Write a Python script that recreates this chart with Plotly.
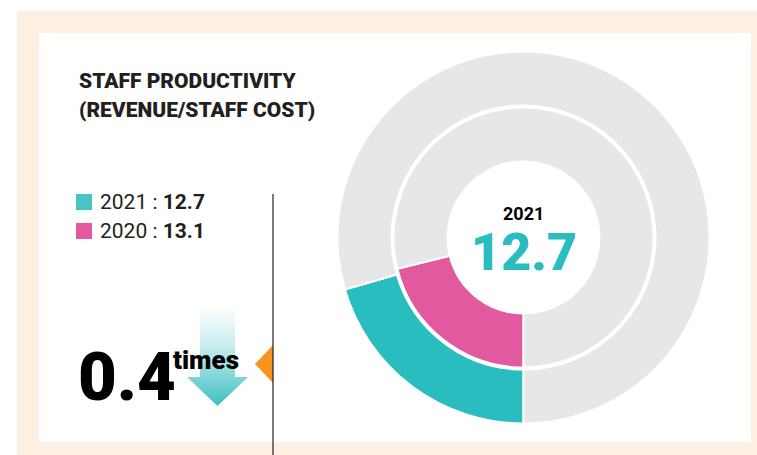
import plotly.graph_objects as go

W, H = 757, 455

# Staff productivity (revenue / staff cost)
years = ["2021", "2020"]
productivity = [12.7, 13.1]
ring_full_scale = 62.0
change_label = "0.4"

TEAL = "#29BDBF"
PINK = "#E15AA0"
GREY = "#E6E7E8"
LEG_TEAL = "#4AC3C6"
LEG_PINK = "#E35A9F"
PEACH = "#FDEFE1"
ORANGE = "#F7941D"
INK = "#231F20"
FONT = "Roboto"


def px(x):
    return x / W


def py(y):
    return 1 - y / H


cx, cy = 523.5, 237.5
r_outer, r_outer_hole = 186.0, 132.0
r_inner, r_inner_hole = 130.0, 76.0


def ring_domain(r):
    return dict(x=[px(cx - r), px(cx + r)], y=[py(cy + r), py(cy - r)])


fig = go.Figure()

# outer ring: 2021
fig.add_trace(go.Pie(
    values=[productivity[0], ring_full_scale - productivity[0]],
    marker=dict(colors=[TEAL, GREY], line=dict(color="white", width=2)),
    hole=r_outer_hole / r_outer, domain=ring_domain(r_outer),
    rotation=180, direction="clockwise", sort=False,
    textinfo="none", hoverinfo="skip", showlegend=False,
))
# inner ring: 2020
fig.add_trace(go.Pie(
    values=[productivity[1], ring_full_scale - productivity[1]],
    marker=dict(colors=[PINK, GREY], line=dict(color="white", width=2)),
    hole=r_inner_hole / r_inner, domain=ring_domain(r_inner),
    rotation=180, direction="clockwise", sort=False,
    textinfo="none", hoverinfo="skip", showlegend=False,
))

# downward arrow with a fading gradient
ax = [200, 235, 235, 248, 217.5, 187, 200, 200]
ay = [305, 305, 377, 377, 406, 377, 377, 305]
fig.add_trace(go.Scatter(
    x=ax, y=ay, mode="lines", fill="toself", line=dict(width=0),
    fillgradient=dict(type="vertical", start=305, stop=406,
                      colorscale=[[0, "#FFFFFF"], [0.4, "#C9EDEE"], [1, "#3FBFC2"]]),
    hoverinfo="skip", showlegend=False,
))

shapes = [
    dict(type="rect", xref="x", yref="y", x0=17, x1=757, y0=10.5, y1=455,
         fillcolor=PEACH, line_width=0, layer="below"),
    dict(type="rect", xref="x", yref="y", x0=39, x1=751, y0=33, y1=442,
         fillcolor="white", line_width=0, layer="below"),
    dict(type="path", xref="x", yref="y", path="M 273 345 L 255 364 L 273 383 Z",
         fillcolor=ORANGE, line_width=0, layer="above"),
    dict(type="line", xref="x", yref="y", x0=273, x1=273, y0=194, y1=455,
         line=dict(color=INK, width=1.2), layer="above"),
    dict(type="rect", xref="x", yref="y", x0=76, x1=92, y0=194, y1=210,
         fillcolor=LEG_TEAL, line_width=0),
    dict(type="rect", xref="x", yref="y", x0=76, x1=92, y0=223, y1=239,
         fillcolor=LEG_PINK, line_width=0),
]

ann = [
    dict(x=px(77), y=py(81), text="STAFF PRODUCTIVITY", xanchor="left",
         yanchor="middle", font=dict(size=21, color=INK, weight=900)),
    dict(x=px(77), y=py(110), text="(REVENUE/STAFF COST)", xanchor="left",
         yanchor="middle", font=dict(size=21, color=INK, weight=900)),
    dict(x=px(98), y=py(202), text=f"{years[0]} : <b>{productivity[0]}</b>",
         xanchor="left", yanchor="middle", font=dict(size=21, color=INK)),
    dict(x=px(98), y=py(231), text=f"{years[1]} : <b>{productivity[1]}</b>",
         xanchor="left", yanchor="middle", font=dict(size=21, color=INK)),
    dict(x=px(76), y=py(377), text=change_label, xanchor="left",
         yanchor="middle", font=dict(size=67, color="#000000", weight=900)),
    dict(x=px(171), y=py(360), text="times", xanchor="left",
         yanchor="middle", font=dict(size=26, color="#000000", weight=900)),
    dict(x=px(cx), y=py(213), text=f"<b>{years[0]}</b>", xanchor="center",
         yanchor="middle", font=dict(size=18, color="#000000")),
    dict(x=px(cx), y=py(252), text=str(productivity[0]), xanchor="center",
         yanchor="middle", font=dict(size=52, color=TEAL, weight=900)),
]
for a in ann:
    a.update(xref="paper", yref="paper", showarrow=False)

fig.update_layout(
    width=W, height=H, margin=dict(l=0, r=0, t=0, b=0),
    paper_bgcolor="white", plot_bgcolor="rgba(0,0,0,0)",
    font=dict(family=FONT),
    xaxis=dict(range=[0, W], domain=[0, 1], visible=False, fixedrange=True),
    yaxis=dict(range=[H, 0], domain=[0, 1], visible=False, fixedrange=True),
    shapes=shapes, annotations=ann,
)

fig.write_html("out.html")
